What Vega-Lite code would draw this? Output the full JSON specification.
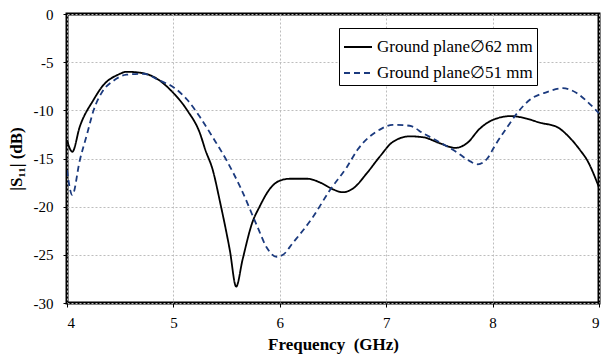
{
  "$schema": "https://vega.github.io/schema/vega-lite/v6.json",
  "width": 532,
  "height": 289,
  "autosize": {"type": "none"},
  "padding": {"left": 67, "top": 14, "right": 3, "bottom": 53},
  "background": "white",
  "config": {
    "font": "Liberation Serif",
    "view": {"stroke": "black", "strokeWidth": 3},
    "text": {"font": "Liberation Serif"},
    "legend": {"labelFont": "Liberation Serif", "titleFont": "Liberation Serif"},
    "axis": {
      "domain": false,
      "grid": true,
      "gridColor": "#bdbdbd",
      "gridDash": [2, 2],
      "gridWidth": 1,
      "tickColor": "black",
      "tickSize": 4,
      "tickWidth": 1,
      "labelFont": "Liberation Serif",
      "labelFontSize": 15,
      "labelColor": "black",
      "titleFont": "Liberation Serif",
      "titleFontSize": 17,
      "titleFontWeight": "bold",
      "titleColor": "black"
    }
  },
  "data": {
    "values": [
      {"f": 4.00, "s": -13.1, "g": "Ground plane∅62 mm"},
      {"f": 4.05, "s": -14.3, "g": "Ground plane∅62 mm"},
      {"f": 4.12, "s": -11.7, "g": "Ground plane∅62 mm"},
      {"f": 4.25, "s": -8.9, "g": "Ground plane∅62 mm"},
      {"f": 4.34, "s": -7.4, "g": "Ground plane∅62 mm"},
      {"f": 4.48, "s": -6.3, "g": "Ground plane∅62 mm"},
      {"f": 4.56, "s": -6.0, "g": "Ground plane∅62 mm"},
      {"f": 4.69, "s": -6.1, "g": "Ground plane∅62 mm"},
      {"f": 4.81, "s": -6.5, "g": "Ground plane∅62 mm"},
      {"f": 5.00, "s": -8.2, "g": "Ground plane∅62 mm"},
      {"f": 5.13, "s": -10.0, "g": "Ground plane∅62 mm"},
      {"f": 5.25, "s": -12.4, "g": "Ground plane∅62 mm"},
      {"f": 5.30, "s": -14.1, "g": "Ground plane∅62 mm"},
      {"f": 5.37, "s": -16.2, "g": "Ground plane∅62 mm"},
      {"f": 5.44, "s": -19.6, "g": "Ground plane∅62 mm"},
      {"f": 5.53, "s": -24.5, "g": "Ground plane∅62 mm"},
      {"f": 5.59, "s": -28.3, "g": "Ground plane∅62 mm"},
      {"f": 5.65, "s": -25.5, "g": "Ground plane∅62 mm"},
      {"f": 5.74, "s": -21.7, "g": "Ground plane∅62 mm"},
      {"f": 5.81, "s": -20.0, "g": "Ground plane∅62 mm"},
      {"f": 5.91, "s": -18.1, "g": "Ground plane∅62 mm"},
      {"f": 6.00, "s": -17.3, "g": "Ground plane∅62 mm"},
      {"f": 6.10, "s": -17.1, "g": "Ground plane∅62 mm"},
      {"f": 6.26, "s": -17.1, "g": "Ground plane∅62 mm"},
      {"f": 6.38, "s": -17.5, "g": "Ground plane∅62 mm"},
      {"f": 6.50, "s": -18.2, "g": "Ground plane∅62 mm"},
      {"f": 6.59, "s": -18.5, "g": "Ground plane∅62 mm"},
      {"f": 6.69, "s": -18.1, "g": "Ground plane∅62 mm"},
      {"f": 6.82, "s": -16.5, "g": "Ground plane∅62 mm"},
      {"f": 6.94, "s": -14.8, "g": "Ground plane∅62 mm"},
      {"f": 7.06, "s": -13.3, "g": "Ground plane∅62 mm"},
      {"f": 7.22, "s": -12.7, "g": "Ground plane∅62 mm"},
      {"f": 7.35, "s": -12.8, "g": "Ground plane∅62 mm"},
      {"f": 7.50, "s": -13.4, "g": "Ground plane∅62 mm"},
      {"f": 7.65, "s": -13.9, "g": "Ground plane∅62 mm"},
      {"f": 7.76, "s": -13.4, "g": "Ground plane∅62 mm"},
      {"f": 7.88, "s": -11.9, "g": "Ground plane∅62 mm"},
      {"f": 8.00, "s": -11.0, "g": "Ground plane∅62 mm"},
      {"f": 8.17, "s": -10.6, "g": "Ground plane∅62 mm"},
      {"f": 8.30, "s": -10.8, "g": "Ground plane∅62 mm"},
      {"f": 8.45, "s": -11.3, "g": "Ground plane∅62 mm"},
      {"f": 8.60, "s": -11.7, "g": "Ground plane∅62 mm"},
      {"f": 8.73, "s": -12.9, "g": "Ground plane∅62 mm"},
      {"f": 8.82, "s": -14.1, "g": "Ground plane∅62 mm"},
      {"f": 8.89, "s": -15.2, "g": "Ground plane∅62 mm"},
      {"f": 9.00, "s": -18.0, "g": "Ground plane∅62 mm"},
      {"f": 4.00, "s": -16.2, "g": "Ground plane∅51 mm"},
      {"f": 4.05, "s": -18.8, "g": "Ground plane∅51 mm"},
      {"f": 4.12, "s": -15.2, "g": "Ground plane∅51 mm"},
      {"f": 4.19, "s": -12.4, "g": "Ground plane∅51 mm"},
      {"f": 4.25, "s": -10.0, "g": "Ground plane∅51 mm"},
      {"f": 4.33, "s": -8.1, "g": "Ground plane∅51 mm"},
      {"f": 4.44, "s": -6.9, "g": "Ground plane∅51 mm"},
      {"f": 4.56, "s": -6.3, "g": "Ground plane∅51 mm"},
      {"f": 4.72, "s": -6.2, "g": "Ground plane∅51 mm"},
      {"f": 4.87, "s": -6.9, "g": "Ground plane∅51 mm"},
      {"f": 5.00, "s": -7.6, "g": "Ground plane∅51 mm"},
      {"f": 5.13, "s": -8.9, "g": "Ground plane∅51 mm"},
      {"f": 5.25, "s": -10.7, "g": "Ground plane∅51 mm"},
      {"f": 5.37, "s": -12.8, "g": "Ground plane∅51 mm"},
      {"f": 5.50, "s": -15.2, "g": "Ground plane∅51 mm"},
      {"f": 5.63, "s": -18.0, "g": "Ground plane∅51 mm"},
      {"f": 5.79, "s": -22.1, "g": "Ground plane∅51 mm"},
      {"f": 5.88, "s": -24.3, "g": "Ground plane∅51 mm"},
      {"f": 5.97, "s": -25.2, "g": "Ground plane∅51 mm"},
      {"f": 6.03, "s": -25.0, "g": "Ground plane∅51 mm"},
      {"f": 6.12, "s": -23.8, "g": "Ground plane∅51 mm"},
      {"f": 6.31, "s": -21.1, "g": "Ground plane∅51 mm"},
      {"f": 6.47, "s": -18.3, "g": "Ground plane∅51 mm"},
      {"f": 6.63, "s": -15.9, "g": "Ground plane∅51 mm"},
      {"f": 6.73, "s": -14.1, "g": "Ground plane∅51 mm"},
      {"f": 6.94, "s": -12.0, "g": "Ground plane∅51 mm"},
      {"f": 7.06, "s": -11.5, "g": "Ground plane∅51 mm"},
      {"f": 7.22, "s": -11.6, "g": "Ground plane∅51 mm"},
      {"f": 7.35, "s": -12.4, "g": "Ground plane∅51 mm"},
      {"f": 7.50, "s": -13.3, "g": "Ground plane∅51 mm"},
      {"f": 7.67, "s": -14.4, "g": "Ground plane∅51 mm"},
      {"f": 7.79, "s": -15.3, "g": "Ground plane∅51 mm"},
      {"f": 7.86, "s": -15.6, "g": "Ground plane∅51 mm"},
      {"f": 7.95, "s": -15.0, "g": "Ground plane∅51 mm"},
      {"f": 8.02, "s": -13.7, "g": "Ground plane∅51 mm"},
      {"f": 8.14, "s": -11.7, "g": "Ground plane∅51 mm"},
      {"f": 8.23, "s": -10.3, "g": "Ground plane∅51 mm"},
      {"f": 8.35, "s": -8.9, "g": "Ground plane∅51 mm"},
      {"f": 8.51, "s": -8.1, "g": "Ground plane∅51 mm"},
      {"f": 8.66, "s": -7.7, "g": "Ground plane∅51 mm"},
      {"f": 8.79, "s": -8.2, "g": "Ground plane∅51 mm"},
      {"f": 8.89, "s": -9.1, "g": "Ground plane∅51 mm"},
      {"f": 9.00, "s": -10.3, "g": "Ground plane∅51 mm"}
    ]
  },
  "mark": {"type": "line", "interpolate": "monotone", "strokeWidth": 1.8, "clip": true},
  "encoding": {
    "x": {
      "field": "f",
      "type": "quantitative",
      "title": "Frequency \u00a0(GHz)",
      "scale": {"domain": [4, 9], "nice": false, "zero": false},
      "axis": {"values": [4, 5, 6, 7, 8, 9], "labelExpr": "'' + datum.value", "labelFont": "Liberation Serif", "labelPadding": 8, "titlePadding": 6}
    },
    "y": {
      "field": "s",
      "type": "quantitative",
      "title": "|S₁₁| (dB)",
      "scale": {"domain": [-30, 0], "nice": false},
      "axis": {"values": [-30, -25, -20, -15, -10, -5, 0], "labelExpr": "'' + datum.value", "labelFont": "Liberation Serif", "labelPadding": 10, "titlePadding": 8}
    },
    "color": {
      "field": "g",
      "type": "nominal",
      "title": null,
      "scale": {"domain": ["Ground plane∅62 mm", "Ground plane∅51 mm"], "range": ["#000000", "#1b3a7e"]},
      "legend": {
        "orient": "none",
        "legendX": 272,
        "legendY": 14,
        "fillColor": "white",
        "strokeColor": "black",
        "padding": 4,
        "labelFont": "Liberation Serif",
        "labelFontSize": 17,
        "labelColor": "black",
        "labelOffset": 4,
        "rowPadding": 3,
        "symbolType": "stroke",
        "symbolSize": 784,
        "symbolStrokeWidth": 2
      }
    },
    "strokeDash": {
      "field": "g",
      "type": "nominal",
      "title": null,
      "scale": {"domain": ["Ground plane∅62 mm", "Ground plane∅51 mm"], "range": [[1, 0], [6, 4]]}
    }
  }
}
